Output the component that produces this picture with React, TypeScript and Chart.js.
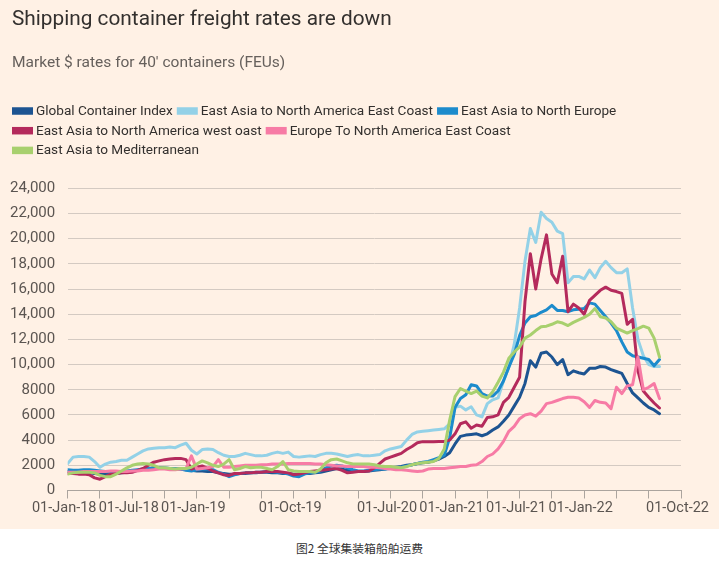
import React, { useEffect, useRef } from "react";
import { Chart, registerables } from "chart.js";

Chart.register(...registerables);

const TITLE = "Shipping container freight rates are down";
const SUBTITLE = "Market $ rates for 40' containers (FEUs)";
const CAPTION = "图2 全球集装箱船舶运费";

// x positions: months since 01-Jan-2018, half-month steps
const months: number[] = Array.from({ length: 111 }, (_, i) => i / 2);

const seriesNames = [
  "Global Container Index",
  "East Asia to North America East Coast",
  "East Asia to North Europe",
  "East Asia to North America west oast",
  "Europe To North America East Coast",
  "East Asia to Mediterranean",
];

const seriesColors = ["#1d5491", "#93d1e7", "#1c8bcc", "#b42a5c", "#f77ba5", "#a8d06e"];

const globalIndex = [
  1500, 1550, 1500, 1450, 1400, 1350, 1300, 1300, 1350, 1350,
  1400, 1450, 1500, 1600, 1700, 1750, 1800, 1800, 1750, 1750,
  1700, 1700, 1650, 1600, 1550, 1550, 1500, 1500, 1400, 1350,
  1300, 1300, 1350, 1350, 1400, 1400, 1450, 1450, 1400, 1400,
  1350, 1350, 1300, 1300, 1350, 1350, 1400, 1450, 1550, 1650,
  1750, 1700, 1600, 1550, 1500, 1500, 1550, 1600, 1650, 1700,
  1800, 1850, 1900, 2000, 2050, 2150, 2200, 2250, 2350, 2500,
  2700, 3000, 3700, 4300, 4400, 4450, 4500, 4350, 4500, 4800,
  5050, 5500, 6000, 6700, 7400, 8500, 10300, 9800, 10900, 11000,
  10600, 10000, 10400, 9200, 9500, 9350, 9250, 9700, 9700, 9850,
  9800, 9600, 9450, 9300, 8500, 7750, 7350, 6950, 6600, 6400,
  6100,
];

const asiaNAEast = [
  2150, 2650, 2700, 2700, 2650, 2300, 1850, 2100, 2250, 2300,
  2400, 2400, 2650, 2900, 3150, 3300, 3350, 3400, 3400, 3450,
  3400, 3600, 3750, 3200, 2900, 3250, 3300, 3250, 3000, 2800,
  2700, 2700, 2800, 2950, 2850, 2750, 2750, 2800, 2950, 3050,
  2950, 3050, 2700, 2650, 2700, 2750, 2700, 2850, 2950, 2950,
  2900, 2800, 2700, 2800, 2850, 2750, 2750, 2800, 2850, 3150,
  3300, 3400, 3500, 4000, 4450, 4650, 4700, 4750, 4800, 4850,
  4900, 5300, 6600, 6700, 6400, 6650, 6000, 5850, 6900, 7200,
  7350, 8700, 9800, 11600, 14500, 18200, 20800, 19700, 22100, 21600,
  21300, 20600, 20400, 16500, 17000, 17000, 16800, 17500, 16900, 17700,
  18200, 17700, 17300, 17300, 17600, 14500, 12000, 10700, 10000, 9850,
  9850,
];

const asiaNorthEurope = [
  1650, 1600, 1600, 1650, 1650, 1600, 1550, 1500, 1450, 1450,
  1500, 1550, 1600, 1650, 1700, 1750, 1750, 1800, 1800, 1750,
  1750, 1700, 1600, 1550, 1650, 1700, 1700, 1650, 1450, 1300,
  1100, 1250, 1350, 1400, 1400, 1450, 1450, 1500, 1500, 1450,
  1400, 1300, 1150, 1100, 1300, 1400, 1450, 1550, 1800, 1950,
  2000, 1950, 1800, 1650, 1550, 1550, 1600, 1650, 1700, 1700,
  1750, 1800, 1850, 1950, 2050, 2150, 2250, 2300, 2450, 2600,
  2800, 4200, 6600, 7300, 7600, 8400, 8300, 7700, 7500, 7500,
  7900, 8700, 9800, 10800, 12300, 13300, 13800, 13900, 14150, 14350,
  14700, 14300, 14300, 14200, 14350, 14400, 14450, 14900, 14800, 14300,
  13800, 13300, 12700, 11800, 11000, 10700, 10600, 10500, 10400, 9900,
  10400,
];

const asiaNAWest = [
  1350, 1350, 1300, 1300, 1250, 1000, 900, 1100, 1300, 1350,
  1400, 1400, 1450, 1600, 1750, 2000, 2250, 2350, 2450, 2500,
  2550, 2550, 2450, 1700, 1850, 1950, 1750, 1550, 1400, 1250,
  1200, 1350, 1350, 1400, 1400, 1450, 1450, 1500, 1500, 1500,
  1450, 1400, 1250, 1300, 1400, 1500, 1550, 1600, 1650, 1700,
  1750, 1600, 1400, 1450, 1500, 1500, 1550, 1800, 2150, 2500,
  2650, 2800, 2950, 3250, 3500, 3800, 3880, 3880, 3880, 3900,
  3900, 4000, 4500, 5300, 5450, 4950, 5200, 5100, 5800, 5850,
  6000, 7000, 7400, 8200, 9000, 15000, 18800, 16000, 18400, 20300,
  17200, 16500, 18600, 14200, 14800, 14500, 14000, 15100, 15500, 15900,
  16150, 15900, 15800, 15650, 13200, 13600, 9500, 7900, 7400, 6950,
  6550,
];

const europeNAEast = [
  1450, 1450, 1450, 1500, 1500, 1500, 1500, 1500, 1550, 1550,
  1500, 1500, 1550, 1550, 1600, 1600, 1650, 1700, 1700, 1650,
  1650, 1700, 1750, 2750, 1700, 1750, 1800, 1900, 2450, 1850,
  1850, 1900, 1950, 2000, 2000, 2000, 2050, 2050, 2100, 2100,
  2100, 2150, 2150, 2150, 2150, 2150, 2100, 2100, 2050, 2000,
  1950, 1950, 1900, 1900, 1900, 1900, 1850, 1850, 1800, 1750,
  1700, 1650, 1650, 1600, 1550, 1500, 1550, 1700, 1750, 1750,
  1750, 1800, 1850, 1900, 1900, 2000, 2050, 2300, 2700, 2900,
  3300, 3900, 4700, 5100, 5700, 6000, 6100, 5900, 6300, 6900,
  7000, 7150, 7300, 7400, 7400, 7350, 7050, 6600, 7150, 7000,
  6950, 6500, 8200, 7700, 8300, 8400, 10600, 8000, 8200, 8500,
  7300,
];

const asiaMed = [
  1300, 1400, 1450, 1450, 1450, 1400, 1200, 1100, 1100, 1300,
  1550, 1800, 2000, 2100, 2150, 2100, 2000, 1800, 1800, 1750,
  1700, 1750, 1750, 1850, 2100, 2350, 2200, 2000, 1900, 2100,
  2450, 1650, 1750, 1900, 1800, 1850, 1850, 1750, 1650, 1900,
  2300, 1650, 1550, 1500, 1500, 1500, 1450, 1700, 2200, 2450,
  2500, 2350, 2200, 2100, 2100, 2100, 2100, 2050, 1950, 1900,
  1900, 1850, 1800, 1900, 2050, 2150, 2200, 2250, 2300, 2550,
  3300, 5600, 7450, 8100, 7900, 7700, 7900, 7500, 7350, 7850,
  8600, 9400, 10500, 11000, 11400, 12100, 12350, 12700, 13000, 13050,
  13200, 13400, 13300, 13100, 13350, 13550, 13750, 14000, 14450, 13800,
  13700, 13400, 12900, 12700, 12500, 12700, 12850, 13050, 12900, 12100,
  10600,
];

const seriesValues = [globalIndex, asiaNAEast, asiaNorthEurope, asiaNAWest, europeNAEast, asiaMed];

const monthNames = ["Jan", "Apr", "Jul", "Oct"];
const shownTickLabels = [
  "01-Jan-18", "01-Jul-18", "01-Jan-19", "01-Oct-19", "01-Jul-20",
  "01-Jan-21", "01-Jul-21", "01-Jan-22", "01-Oct-22",
];
const yTicks = [0, 2000, 4000, 6000, 8000, 10000, 12000, 14000, 16000, 18000, 20000, 22000, 24000];

const headerPlugin = {
  id: "header",
  afterDraw(chart: any) {
    const ctx = chart.ctx;
    ctx.save();
    ctx.textAlign = "left";
    ctx.textBaseline = "alphabetic";
    ctx.fillStyle = "#33302E";
    ctx.font = "400 20.8px Roboto";
    ctx.fillText(TITLE, 12, 25);
    ctx.fillStyle = "#66605C";
    ctx.font = "400 15.5px Roboto";
    ctx.fillText(SUBTITLE, 12, 67);
    ctx.font = "400 13.6px Roboto";
    ctx.textBaseline = "middle";
    let x = 12;
    let row = 0;
    const maxX = 690;
    chart.data.datasets.forEach((ds: any) => {
      const w = 24 + ctx.measureText(ds.label).width;
      if (x > 12 && x + w > maxX) {
        row++;
        x = 12;
      }
      const cy = 111 + row * 19.7;
      ctx.fillStyle = ds.borderColor;
      ctx.fillRect(x, cy - 3.75, 21, 7.5);
      ctx.fillStyle = "#33302E";
      ctx.fillText(ds.label, x + 24, cy + 0.5);
      x += w + 4;
    });
    ctx.restore();
  },
};

export default function App() {
  const canvasRef = useRef<HTMLCanvasElement | null>(null);

  useEffect(() => {
    if (!canvasRef.current) return;
    const datasets = seriesNames.map((name, i) => ({
      label: name,
      data: months.map((m, j) => ({ x: m, y: seriesValues[i][j] })),
      borderColor: seriesColors[i],
      backgroundColor: seriesColors[i],
      borderWidth: 3,
      pointRadius: 0,
      tension: 0,
      borderJoinStyle: "round" as const,
      borderCapStyle: "round" as const,
      order: seriesNames.length - 1 - i,
    }));

    const chart = new Chart(canvasRef.current, {
      type: "line",
      data: { datasets },
      plugins: [headerPlugin],
      options: {
        animation: false,
        responsive: false,
        layout: { padding: { top: 188.3, right: 38, bottom: 0, left: 0 } },
        plugins: {
          legend: { display: false },
          title: { display: false },
          tooltip: { enabled: false },
        },
        scales: {
          x: {
            type: "linear",
            min: 0,
            max: 57,
            afterFit: (scale: any) => {
              scale.height = 38.5;
            },
            afterBuildTicks: (scale: any) => {
              const t = [];
              for (let v = 0; v <= 57; v += 3) t.push({ value: v });
              scale.ticks = t;
            },
            ticks: {
              autoSkip: false,
              maxRotation: 0,
              padding: 1,
              labelOffset: -3.5,
              color: "#5b5551",
              font: { family: "Roboto", size: 14.5 },
              callback: (value: any) => {
                const v = Number(value);
                const year = 18 + Math.floor(v / 12);
                const mon = monthNames[Math.floor((v % 12) / 3)];
                const label = `01-${mon}-${year}`;
                return shownTickLabels.includes(label) ? label : "";
              },
            },
            grid: {
              display: true,
              drawOnChartArea: false,
              drawTicks: true,
              tickLength: 8,
              color: "#aba49e",
            },
            border: { display: true, color: "#aba49e", width: 1 },
          },
          y: {
            min: 0,
            max: 24000,
            afterFit: (scale: any) => {
              scale.width = 67.7;
            },
            afterBuildTicks: (scale: any) => {
              scale.ticks = yTicks.map((v) => ({ value: v }));
            },
            ticks: {
              padding: 12.5,
              color: "#5b5551",
              font: { family: "Roboto", size: 15 },
              callback: (value: any) => {
                const v = Number(value);
                return v >= 10000 ? v.toLocaleString("en-US") : String(v);
              },
            },
            grid: { color: "#d4cac2", drawTicks: false, lineWidth: 1 },
            border: { display: false },
          },
        },
      },
    });
    return () => chart.destroy();
  }, []);

  return (
    <div style={{ position: "absolute", left: 0, top: 0, width: 719, height: 563, background: "#ffffff" }}>
      <div style={{ position: "absolute", left: 0, top: 0, width: 719, height: 529, background: "#FFF1E5" }}>
        <canvas ref={canvasRef} width={719} height={529} style={{ width: 719, height: 529, display: "block" }} />
      </div>
      <div
        style={{
          position: "absolute",
          left: 0,
          top: 539,
          width: 719,
          textAlign: "center",
          fontSize: 11.8,
          lineHeight: "18px",
          color: "#333333",
          fontFamily: '"Noto Sans CJK SC", sans-serif',
        }}
      >
        {CAPTION}
      </div>
    </div>
  );
}
